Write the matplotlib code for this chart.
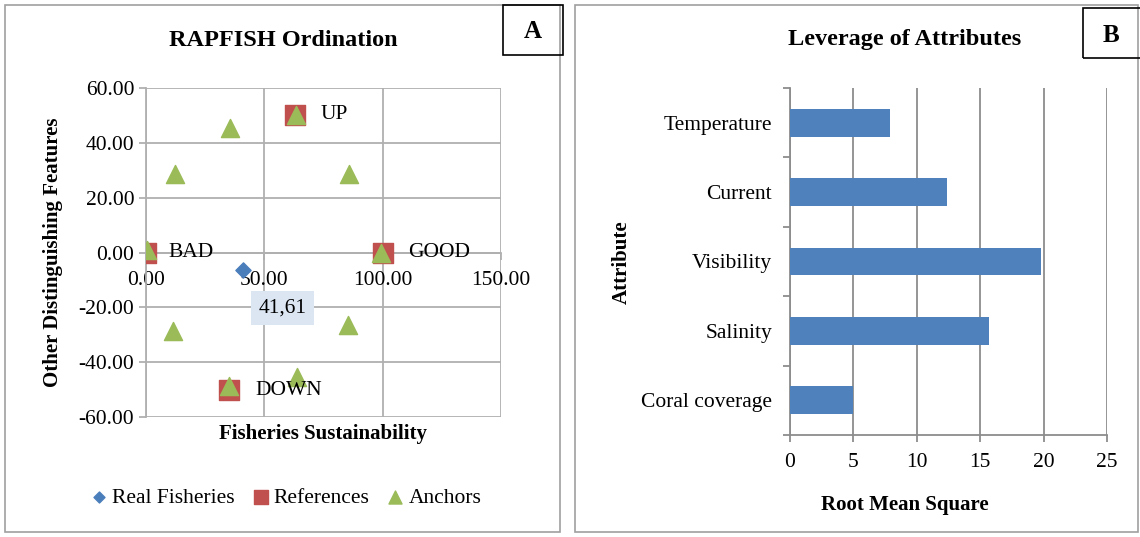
import matplotlib.pyplot as plt
import numpy as np
from matplotlib.patches import Rectangle

plt.rcParams['font.family'] = ['Liberation Serif', 'DejaVu Serif']
plt.rcParams['axes.unicode_minus'] = False

# panel A data
real_x = [40.8]
real_y = [-6.5]
real_label = '41,61'
ref_x = [0.0, 100.0, 63.0, 35.0]
ref_y = [0.0, 0.0, 50.3, -50.3]
ref_names = ['BAD', 'GOOD', 'UP', 'DOWN']
anchor_x = [0.5, 99.5, 63.5, 35.5, 12.3, 85.8, 11.6, 85.4, 63.8, 35.2]
anchor_y = [1.0, -0.3, 50.0, 45.3, 28.8, 28.5, -28.5, -26.6, -45.3, -48.8]

# panel B data
attributes = ['Coral coverage', 'Salinity', 'Visibility', 'Current', 'Temperature']
rms = [5.0, 15.7, 19.8, 12.4, 7.9]

fig = plt.figure(figsize=(11.4, 5.37), dpi=100)
W, H = 1140, 537

def fx(px):
    return px / W

def fy(py):
    return 1 - py / H

grid_col = '#b0b0b0'

# panel borders
fig.patches.append(Rectangle((fx(5), fy(532)), fx(555), 527 / H, transform=fig.transFigure,
                             fill=False, edgecolor='#a0a0a0', lw=1.2))
fig.patches.append(Rectangle((fx(575), fy(532)), fx(563), 527 / H, transform=fig.transFigure,
                             fill=False, edgecolor='#a0a0a0', lw=1.2))

# ---- panel A ----
ax = fig.add_axes([fx(146), fy(417), fx(501 - 146), (417 - 88) / H])
ax.scatter(real_x, real_y, marker='D', s=60, color='#4a7ebb', zorder=5, label='Real Fisheries')
ax.scatter(ref_x, ref_y, marker='s', s=200, color='#c0504d', zorder=3, label='References')
ax.scatter(anchor_x, anchor_y, marker='^', s=170, color='#9bbb59', zorder=4, label='Anchors')
ax.set_xlim(0, 150)
ax.set_ylim(-60, 60)
ax.set_xticks([0, 50, 100, 150])
ax.set_yticks(np.arange(-60, 61, 20))
ax.xaxis.set_major_formatter(plt.FormatStrFormatter('%.2f'))
ax.yaxis.set_major_formatter(plt.FormatStrFormatter('%.2f'))
ax.grid(True, color=grid_col, lw=1.3)
ax.set_axisbelow(True)
for s in ['top', 'right']:
    ax.spines[s].set_visible(False)
ax.spines['bottom'].set_position(('data', 0))
ax.spines['bottom'].set_color(grid_col)
ax.spines['left'].set_color(grid_col)
ax.spines['bottom'].set_linewidth(1.3)
ax.spines['left'].set_linewidth(1.3)
ax.tick_params(axis='both', labelsize=15.5, color=grid_col, length=5, width=1.3)
ax.tick_params(axis='x', pad=8)

offsets = {'BAD': (16, 0), 'GOOD': (18, 0), 'UP': (18, 0), 'DOWN': (19, 0)}
for x, y, n in zip(ref_x, ref_y, ref_names):
    ax.annotate(n, (x, y), xytext=offsets[n], textcoords='offset points',
                fontsize=15.5, va='center', ha='left', zorder=6)
ax.annotate(real_label, (real_x[0], real_y[0]), xytext=(29, -27), textcoords='offset points',
            fontsize=15.5, va='center', ha='center', zorder=6,
            bbox=dict(boxstyle='square,pad=0.35', fc='#dce6f2', ec='none'))

fig.text(fx(283), fy(40), 'RAPFISH Ordination', fontsize=17.5, fontweight='bold', ha='center', va='center')
fig.text(fx(323), fy(434), 'Fisheries Sustainability', fontsize=15, fontweight='bold', ha='center', va='center')
fig.text(fx(53), fy(252), 'Other Distinguishing Features', fontsize=15, fontweight='bold',
         ha='center', va='center', rotation=90)

fig.patches.append(Rectangle((fx(503), fy(55)), fx(60), 50 / H, transform=fig.transFigure,
                             fill=False, edgecolor='black', lw=1.2))
fig.text(fx(533), fy(31), 'A', fontsize=18, fontweight='bold', ha='center', va='center')

fig.legend(loc='center', bbox_to_anchor=(fx(285), fy(498)), ncol=3, frameon=False,
           fontsize=15.5, handletextpad=0.1, columnspacing=0.7, handlelength=1.0,
           markerscale=0.72)

# ---- panel B ----
bx = fig.add_axes([fx(790), fy(435), fx(1107 - 790), (435 - 88) / H])
pos = np.arange(len(attributes))
bx.barh(pos, rms, height=0.4, color='#4f81bd', zorder=3)
bx.set_xlim(0, 25)
bx.set_ylim(-0.5, len(attributes) - 0.5)
bx.set_xticks(np.arange(0, 26, 5))
bx.set_yticks(pos)
bx.set_yticklabels(attributes)
bx.set_yticks(np.arange(-0.5, len(attributes), 1), minor=True)
bx.grid(True, axis='x', color='#8c8c8c', lw=1.3)
bx.set_axisbelow(True)
for s in ['top', 'right']:
    bx.spines[s].set_visible(False)
for s in ['bottom', 'left']:
    bx.spines[s].set_color('#8c8c8c')
    bx.spines[s].set_linewidth(1.3)
bx.tick_params(axis='y', which='major', length=0, labelsize=15.5, pad=13)
bx.tick_params(axis='y', which='minor', length=5, color='#8c8c8c', width=1.3)
bx.tick_params(axis='x', labelsize=15.5, length=5, color='#8c8c8c', width=1.3, pad=8)

fig.text(fx(905), fy(40), 'Leverage of Attributes', fontsize=17.5, fontweight='bold', ha='center', va='center')
fig.text(fx(905), fy(505), 'Root Mean Square', fontsize=15, fontweight='bold', ha='center', va='center')
fig.text(fx(622), fy(262), 'Attribute', fontsize=15, fontweight='bold', ha='center', va='center', rotation=90)

fig.patches.append(Rectangle((fx(1083), fy(58)), fx(60), 50 / H, transform=fig.transFigure,
                             fill=False, edgecolor='black', lw=1.2))
fig.text(fx(1111), fy(35), 'B', fontsize=18, fontweight='bold', ha='center', va='center')

fig.savefig('out.png', dpi=100)
